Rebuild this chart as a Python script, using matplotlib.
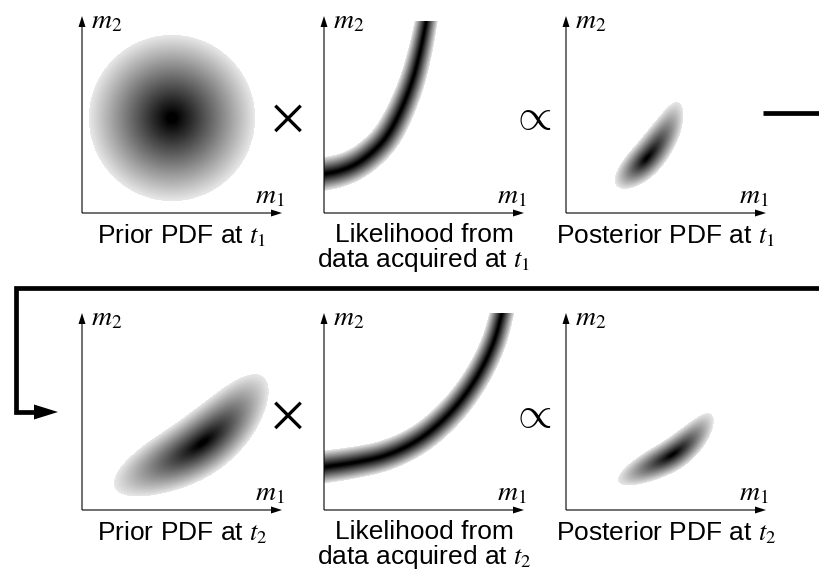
import numpy as np
import matplotlib.pyplot as plt
from matplotlib.patches import FancyArrow

plt.rcParams['mathtext.fontset'] = 'stix'
plt.rcParams['font.family'] = ['Liberation Sans', 'DejaVu Sans']

# shapes, in pixels from each panel's axis origin (x right, y up)
prior1_center = [90, 95]
prior1_sigma = 37

like1_x = [0, 16, 33, 49, 63, 76, 88, 96, 102, 106]
like1_y = [39, 42, 49, 61, 76, 100, 130, 160, 190, 212]
like1_sigma = [7.5, 4.8]
like1_top = 192

post1_x = [38, 58, 81, 98, 108, 116]
post1_y = [18, 33, 54, 78, 98, 122]
post1_peak = [81, 54]
post1_sigma = [7.6, 18, 29]   # across, along (before peak), along (after peak)

prior2_x = [15, 45, 75, 100, 121, 142, 162, 182, 198]
prior2_y = [14, 28, 42, 54, 67, 85, 108, 135, 160]
prior2_peak = [121, 67]
prior2_sigma = [14, 44, 40]

like2_x = [0, 29, 63, 96, 123, 143, 159, 171, 178, 182]
like2_y = [43, 47, 54, 70, 93, 117, 143, 170, 197, 215]
like2_sigma = [7.3, 5.3]
like2_top = 197

post2_x = [30, 60, 85, 107, 125, 140, 152]
post2_y = [18, 32, 44, 55, 70, 88, 108]
post2_peak = [107, 55]
post2_sigma = [7.2, 27, 25]

captions = [["Prior PDF at $t_1$"], ["Likelihood from", "data acquired at $t_1$"], ["Posterior PDF at $t_1$"],
            ["Prior PDF at $t_2$"], ["Likelihood from", "data acquired at $t_2$"], ["Posterior PDF at $t_2$"]]

# layout (figure pixels)
panel_x = [82, 324, 566]
row_y = [213, 510]
axis_w = 200
axis_h = 197
img_w = 198
cutoff = 0.08
edge_gray = 0.91
core = 0.12


def smooth(px, py, n=3):
    # corner cutting, ends kept
    p = np.column_stack([px, py]).astype(float)
    for _ in range(n):
        q = [p[0]]
        for a, b in zip(p[:-1], p[1:]):
            q.append(0.75 * a + 0.25 * b)
            q.append(0.25 * a + 0.75 * b)
        q.append(p[-1])
        p = np.array(q)
    return p[:, 0], p[:, 1]


def along_path(gx, gy, px, py):
    best_d = np.full(np.shape(gx), np.inf)
    best_s = np.zeros(np.shape(gx))
    s0 = 0.0
    n = len(px)
    for i in range(n - 1):
        dx, dy = px[i + 1] - px[i], py[i + 1] - py[i]
        L = np.hypot(dx, dy)
        if L == 0:
            continue
        t = ((gx - px[i]) * dx + (gy - py[i]) * dy) / L ** 2
        lo = -np.inf if i == 0 else 0
        hi = np.inf if i == n - 2 else 1
        t = np.clip(t, lo, hi)
        d = np.hypot(gx - (px[i] + t * dx), gy - (py[i] + t * dy))
        s = s0 + t * L
        m = d < best_d
        best_d[m] = d[m]
        best_s[m] = s[m]
        s0 += L
    return best_d, best_s, s0


def grid(h):
    xs = np.arange(img_w) + 0.5
    ys = np.arange(h) + 0.5
    return np.meshgrid(xs, ys)


def blob(px, py, peak, sig):
    sx, sy = smooth(px, py)
    gx, gy = grid(axis_h)
    d, s, total = along_path(gx, gy, sx, sy)
    _, sp, _ = along_path(np.array([peak[0]]), np.array([peak[1]]), sx, sy)
    sa = np.where(s < sp[0], sig[1], sig[2])
    return np.exp(-d ** 2 / (2 * sig[0] ** 2) - (s - sp[0]) ** 2 / (2 * sa ** 2))


def band(px, py, sig, top):
    sx, sy = smooth(px, py)
    gx, gy = grid(top)
    d, s, total = along_path(gx, gy, sx, sy)
    sg = np.interp(s, [0, total], sig)
    return np.exp(-d ** 2 / (2 * sg ** 2))


def to_gray(D):
    # gray level grows linearly with the normalised distance from the peak
    q = np.sqrt(-2 * np.log(np.maximum(D, 1e-12)))
    qc = np.sqrt(-2 * np.log(cutoff))
    g = np.clip((q - core) / (qc - core), 0, 1) * edge_gray
    return np.ma.masked_where(q > qc, g)


gx, gy = grid(axis_h)
prior1 = np.exp(-((gx - prior1_center[0]) ** 2 + (gy - prior1_center[1]) ** 2) / (2 * prior1_sigma ** 2))
densities = [prior1,
             band(like1_x, like1_y, like1_sigma, like1_top),
             blob(post1_x, post1_y, post1_peak, post1_sigma),
             blob(prior2_x, prior2_y, prior2_peak, prior2_sigma),
             band(like2_x, like2_y, like2_sigma, like2_top),
             blob(post2_x, post2_y, post2_peak, post2_sigma)]

fig = plt.figure(figsize=(8.19, 5.74), dpi=100)
ax = fig.add_axes([0, 0, 1, 1])
ax.set_xlim(0, 819)
ax.set_ylim(574, 0)
ax.axis('off')

cmap = plt.get_cmap('gray').copy()
cmap.set_bad((1, 1, 1, 0))

for k, D in enumerate(densities):
    ox = panel_x[k % 3]
    oy = row_y[k // 3]
    h = D.shape[0]
    ax.imshow(to_gray(D), cmap=cmap, vmin=0, vmax=1, origin='lower', interpolation='bilinear',
              extent=(ox, ox + img_w, oy, oy - h), zorder=1)

    # axes with arrow heads
    ax.add_patch(FancyArrow(ox, oy, axis_w, 0, width=1.1, head_width=7, head_length=11,
                            length_includes_head=True, color='k', lw=0, zorder=3))
    ax.add_patch(FancyArrow(ox, oy, 0, -axis_h, width=1.1, head_width=7, head_length=11,
                            length_includes_head=True, color='k', lw=0, zorder=3))
    ax.text(ox + 9, oy - axis_h + 12, '$m_2$', fontsize=20, ha='left', va='baseline')
    ax.text(ox + axis_w + 3, oy - 10, '$m_1$', fontsize=20, ha='right', va='baseline')

    lines = captions[k]
    if len(lines) == 1:
        ax.text(ox + 100, oy + 30, lines[0], fontsize=19, ha='center', va='baseline')
    else:
        ax.text(ox + 100, oy + 29, lines[0], fontsize=19, ha='center', va='baseline')
        ax.text(ox + 100, oy + 54, lines[1], fontsize=19, ha='center', va='baseline')

# operators between panels
for r in range(2):
    yc = row_y[r] - 95
    ax.text(287, yc, r'$\times$', fontsize=36, ha='center', va='center')
    ax.text(531, yc, r'$\propto$', fontsize=32, math_fontfamily='cm', ha='center', va='center')

# minus sign and feedback arrow
ax.plot([763, 819], [113, 113], color='k', lw=3.4, solid_capstyle='butt')
ax.plot([819, 16, 16, 36], [288, 288, 412, 412], color='k', lw=3.4,
        solid_joinstyle='miter', solid_capstyle='butt')
ax.add_patch(FancyArrow(34, 412, 24, 0, width=4.7, head_width=15, head_length=24,
                        length_includes_head=True, color='k', lw=0, zorder=3))

plt.savefig('out.png', dpi=100)
